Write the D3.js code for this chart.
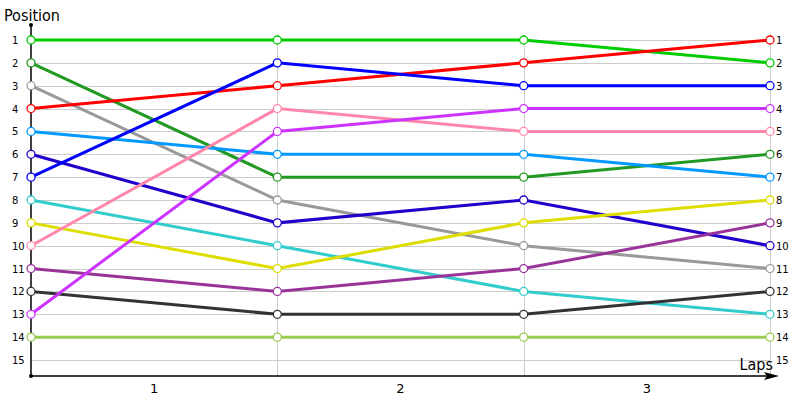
<html>
<head>
  <title>Position chart</title>
  <script src="https://cdnjs.cloudflare.com/ajax/libs/d3/7.8.5/d3.min.js"></script>
  <style>
    body { margin: 0; background: #fff; font-family: "DejaVu Sans", Verdana, sans-serif; }
    .grid line { stroke: #cccccc; stroke-width: 1; shape-rendering: crispEdges; }
    .tick-label { font-size: 10px; fill: #000; }
    .lap-label { font-size: 13px; fill: #000; }
    .title { font-family: "DejaVu Sans Condensed", "DejaVu Sans", sans-serif; font-size: 16px; fill: #000; }
  </style>
</head>
<body>
  <div id="chart"></div>
  <script>
    // Data: position of each driver after each lap (lap 0 = grid)
    var laps = [0, 1, 2, 3];
    var lapLabels = ["1", "2", "3"];
    var positions = d3.range(1, 16);
    var seriesColors = ["#00cc00", "#229922", "#999999", "#ff0000", "#0099ff", "#2200cc", "#0000ff",
                        "#33cccc", "#dddd00", "#ff88aa", "#993399", "#333333", "#cc33ff", "#99cc55"];
    var seriesPositions = [
      [1, 1, 1, 2],
      [2, 7, 7, 6],
      [3, 8, 10, 11],
      [4, 3, 2, 1],
      [5, 6, 6, 7],
      [6, 9, 8, 10],
      [7, 2, 3, 3],
      [8, 10, 12, 13],
      [9, 11, 9, 8],
      [10, 4, 5, 5],
      [11, 12, 11, 9],
      [12, 13, 13, 12],
      [13, 5, 4, 4],
      [14, 14, 14, 14]
    ];

    var svgWidth = 800, svgHeight = 400;
    var svg = d3.select("#chart").append("svg")
      .attr("width", svgWidth)
      .attr("height", svgHeight);

    var x = d3.scaleLinear().domain([0, 3]).range([31, 770]);
    var y = d3.scaleLinear().domain([1, 15]).range([40, 360]);
    var axisY = 376;

    // Grid lines
    var grid = svg.append("g").attr("class", "grid");
    grid.selectAll(".h").data(positions).enter().append("line")
      .attr("x1", x(0)).attr("x2", x(3))
      .attr("y1", function(d) { return Math.round(y(d)) + 0.5; })
      .attr("y2", function(d) { return Math.round(y(d)) + 0.5; });
    grid.selectAll(".v").data(laps.slice(1)).enter().append("line")
      .attr("x1", function(d) { return Math.round(x(d)) + 0.5; })
      .attr("x2", function(d) { return Math.round(x(d)) + 0.5; })
      .attr("y1", 34).attr("y2", axisY);

    // Axes
    svg.append("line")
      .attr("x1", x(0)).attr("x2", x(0))
      .attr("y1", 25).attr("y2", axisY)
      .attr("stroke", "#000").attr("stroke-width", 1.5);
    svg.append("line")
      .attr("x1", x(0)).attr("x2", 770)
      .attr("y1", axisY).attr("y2", axisY)
      .attr("stroke", "#000").attr("stroke-width", 1.5);
    svg.append("path")
      .attr("d", "M764," + (axisY - 4) + "L779," + axisY + "L764," + (axisY + 4) + "L767," + axisY + "Z")
      .attr("fill", "#000");
    svg.append("circle").attr("cx", x(0)).attr("cy", 25).attr("r", 2).attr("fill", "#000");
    svg.append("circle").attr("cx", x(0)).attr("cy", axisY).attr("r", 2).attr("fill", "#000");

    // Tick labels
    svg.selectAll(".left-label").data(positions).enter().append("text")
      .attr("class", "tick-label")
      .attr("x", 12)
      .attr("y", function(d) { return y(d) + 4; })
      .text(function(d) { return d; });
    svg.selectAll(".right-label").data(positions).enter().append("text")
      .attr("class", "tick-label")
      .attr("x", 776)
      .attr("y", function(d) { return y(d) + 4; })
      .text(function(d) { return d; });
    svg.selectAll(".lap-label").data(lapLabels).enter().append("text")
      .attr("class", "lap-label")
      .attr("text-anchor", "middle")
      .attr("x", function(d, i) { return (x(i) + x(i + 1)) / 2; })
      .attr("y", 393)
      .text(function(d) { return d; });

    svg.append("text").attr("class", "title").attr("x", 4).attr("y", 21).text("Position");
    svg.append("text").attr("class", "title").attr("x", 773).attr("y", 370)
      .attr("text-anchor", "end").text("Laps");

    // Series lines
    var line = d3.line()
      .x(function(d, i) { return x(laps[i]); })
      .y(function(d) { return y(d); });

    var series = svg.selectAll(".series").data(seriesPositions).enter().append("g")
      .attr("class", "series");
    series.append("path")
      .attr("d", function(d) { return line(d); })
      .attr("fill", "none")
      .attr("stroke", function(d, i) { return seriesColors[i]; })
      .attr("stroke-width", 3);

    series.each(function(d, i) {
      d3.select(this).selectAll("circle").data(d).enter().append("circle")
        .attr("cx", function(p, j) { return x(laps[j]); })
        .attr("cy", function(p) { return y(p); })
        .attr("r", 4)
        .attr("fill", "#fff")
        .attr("stroke", seriesColors[i])
        .attr("stroke-width", 1.3);
    });
  </script>
</body>
</html>
